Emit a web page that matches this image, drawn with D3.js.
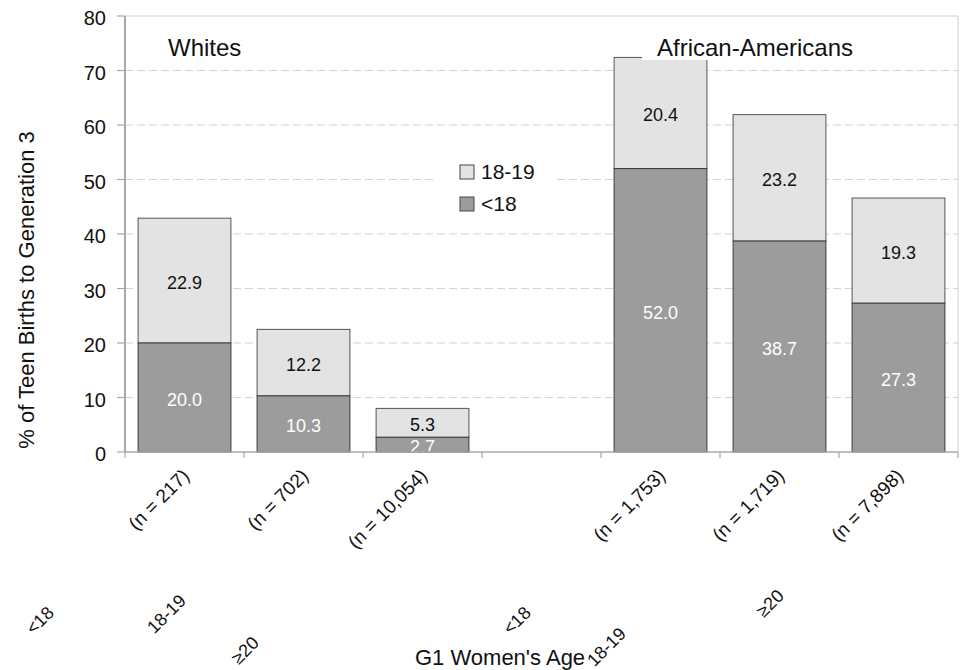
<!DOCTYPE html>
<html>
<head>
<meta charset="utf-8">
<script src="https://cdn.jsdelivr.net/npm/d3@7"></script>
<style>
  html, body { margin: 0; padding: 0; background: #ffffff; }
  svg { display: block; }
  text { font-family: "Liberation Sans", Arial, sans-serif; }
</style>
</head>
<body>
<svg id="chart" width="960" height="670"></svg>
<script>
// ---------------- DATA ----------------
const categories = ["w_lt18", "w_1819", "w_ge20", "gap", "aa_lt18", "aa_1819", "aa_ge20"];
const nLabels = ["(n = 217)", "(n = 702)", "(n = 10,054)", "", "(n = 1,753)", "(n = 1,719)", "(n = 7,898)"];
const under18 = [20.0, 10.3, 2.7, null, 52.0, 38.7, 27.3];
const age1819 = [22.9, 12.2, 5.3, null, 20.4, 23.2, 19.3];
const yTicks = [0, 10, 20, 30, 40, 50, 60, 70, 80];
const ageLabels = ["<18", "18-19", "\u226520", "<18", "18-19", "\u226520"];
const groupTitles = ["Whites", "African-Americans"];
const legendNames = ["18-19", "<18"];
const yTitle = "% of Teen Births to Generation 3";
const xTitle = "G1 Women's Age";

// ---------------- LAYOUT ----------------
const plot = { left: 125, right: 958, top: 16, bottom: 452 };
const colors = { lt18: "#9c9c9c", a1819: "#e2e3e2", stroke: "#3a3a3a", grid: "#d3d3d3", axis: "#a8a8a8", frame: "#cfcfcf" };
// positions of the stray second-level age labels (anchor = end of text)
const ageLabelPos = [[55, 614], [187, 602], [260, 644], [532, 614], [627, 635], [785, 597]];

const svg = d3.select("#chart");

const x = d3.scaleBand().domain(categories).range([plot.left, plot.right])
  .paddingInner(0.22).paddingOuter(0.11);
const y = d3.scaleLinear().domain([0, 80]).range([plot.bottom, plot.top]);

// gridlines
svg.append("g").selectAll("line").data(yTicks.filter(t => t > 0 && t < 80)).join("line")
  .attr("x1", plot.left).attr("x2", plot.right)
  .attr("y1", d => y(d)).attr("y2", d => y(d))
  .attr("stroke", colors.grid).attr("stroke-width", 1.2).attr("stroke-dasharray", "8,4");

// frame top & right
svg.append("line").attr("x1", plot.left).attr("x2", plot.right).attr("y1", y(80)).attr("y2", y(80))
  .attr("stroke", colors.frame).attr("stroke-width", 1);
svg.append("line").attr("x1", plot.right).attr("x2", plot.right).attr("y1", y(80)).attr("y2", y(0))
  .attr("stroke", colors.frame).attr("stroke-width", 1);

// bars
const rows = categories.map((c, i) => ({ c, lo: under18[i], hi: age1819[i], n: nLabels[i] }))
  .filter(d => d.lo != null);

const bars = svg.append("g");
bars.selectAll("rect.hi").data(rows).join("rect").attr("class", "hi")
  .attr("x", d => x(d.c)).attr("width", x.bandwidth())
  .attr("y", d => y(d.lo + d.hi)).attr("height", d => y(d.lo) - y(d.lo + d.hi))
  .attr("fill", colors.a1819).attr("stroke", "#555").attr("stroke-width", 1);
bars.selectAll("rect.lo").data(rows).join("rect").attr("class", "lo")
  .attr("x", d => x(d.c)).attr("width", x.bandwidth())
  .attr("y", d => y(d.lo)).attr("height", d => y(0) - y(d.lo))
  .attr("fill", colors.lt18).attr("stroke", colors.stroke).attr("stroke-width", 1);

// clip for labels
svg.append("clipPath").attr("id", "plotclip").append("rect")
  .attr("x", plot.left).attr("y", plot.top).attr("width", plot.right - plot.left).attr("height", plot.bottom - plot.top);

const labels = svg.append("g").attr("clip-path", "url(#plotclip)");
labels.selectAll("text.hi").data(rows).join("text")
  .attr("x", d => x(d.c) + x.bandwidth() / 2)
  .attr("y", d => y(d.lo + d.hi / 2)).attr("dy", "0.47em")
  .attr("text-anchor", "middle").attr("font-size", 18).attr("fill", "#111")
  .text(d => d.hi.toFixed(1));
labels.selectAll("text.lo").data(rows).join("text")
  .attr("x", d => x(d.c) + x.bandwidth() / 2)
  .attr("y", d => y(d.lo / 2)).attr("dy", "0.47em")
  .attr("text-anchor", "middle").attr("font-size", 18).attr("fill", "#ffffff")
  .text(d => d.lo.toFixed(1));

// x axis line and ticks at band boundaries
const step = x.step();
const x0 = plot.left;
svg.append("line").attr("x1", plot.left).attr("x2", plot.right).attr("y1", y(0)).attr("y2", y(0))
  .attr("stroke", colors.axis).attr("stroke-width", 1.5);
svg.append("g").selectAll("line").data(d3.range(categories.length + 1)).join("line")
  .attr("x1", i => x0 + i * step).attr("x2", i => x0 + i * step)
  .attr("y1", y(0)).attr("y2", y(0) + 6)
  .attr("stroke", colors.axis).attr("stroke-width", 1.2);

// y axis
svg.append("line").attr("x1", plot.left).attr("x2", plot.left).attr("y1", y(80)).attr("y2", y(0))
  .attr("stroke", colors.axis).attr("stroke-width", 2);
const yg = svg.append("g");
yg.selectAll("line").data(yTicks).join("line")
  .attr("x1", plot.left - 8).attr("x2", plot.left).attr("y1", d => y(d)).attr("y2", d => y(d))
  .attr("stroke", colors.axis).attr("stroke-width", 1.2);
yg.selectAll("text").data(yTicks).join("text")
  .attr("x", 106).attr("y", d => y(d)).attr("dy", "0.45em")
  .attr("text-anchor", "end").attr("font-size", 20).attr("fill", "#111")
  .text(d => d);

// x tick labels (rotated)
svg.append("g").selectAll("text").data(rows).join("text")
  .attr("transform", d => `translate(${x(d.c) + x.bandwidth() / 2 + 6},477) rotate(-45)`)
  .attr("text-anchor", "end").attr("font-size", 19).attr("fill", "#111")
  .text(d => d.n);

// stray age labels
svg.append("g").selectAll("text").data(ageLabels).join("text")
  .attr("transform", (d, i) => `translate(${ageLabelPos[i][0]},${ageLabelPos[i][1]}) rotate(-45)`)
  .attr("text-anchor", "end").attr("font-size", 18).attr("fill", "#111")
  .text(d => d);

// axis titles
svg.append("text").attr("transform", "translate(34,290) rotate(-90)")
  .attr("text-anchor", "middle").attr("font-size", 22).attr("fill", "#111").text(yTitle);
svg.append("text").attr("x", 415).attr("y", 665)
  .attr("font-size", 22).attr("fill", "#111").text(xTitle);

// group titles
svg.append("text").attr("x", 168).attr("y", 56).attr("font-size", 24).attr("fill", "#111").text(groupTitles[0]);
svg.append("rect").attr("x", 642).attr("y", 24).attr("width", 228).attr("height", 36).attr("fill", "#ffffff");
svg.append("text").attr("x", 657).attr("y", 56).attr("font-size", 24).attr("fill", "#111").text(groupTitles[1]);

// legend
const lg = svg.append("g");
lg.append("rect").attr("x", 435).attr("y", 150).attr("width", 122).attr("height", 72).attr("fill", "#ffffff");
const legendFill = [colors.a1819, colors.lt18];
legendNames.forEach((name, i) => {
  lg.append("rect").attr("x", 460).attr("y", 165 + i * 32).attr("width", 14).attr("height", 14)
    .attr("fill", legendFill[i]).attr("stroke", "#444").attr("stroke-width", 1);
  lg.append("text").attr("x", 481).attr("y", 179 + i * 32)
    .attr("font-family", "Lato, 'Open Sans', sans-serif").attr("font-size", 21).attr("fill", "#111")
    .text(name);
});
</script>
</body>
</html>
